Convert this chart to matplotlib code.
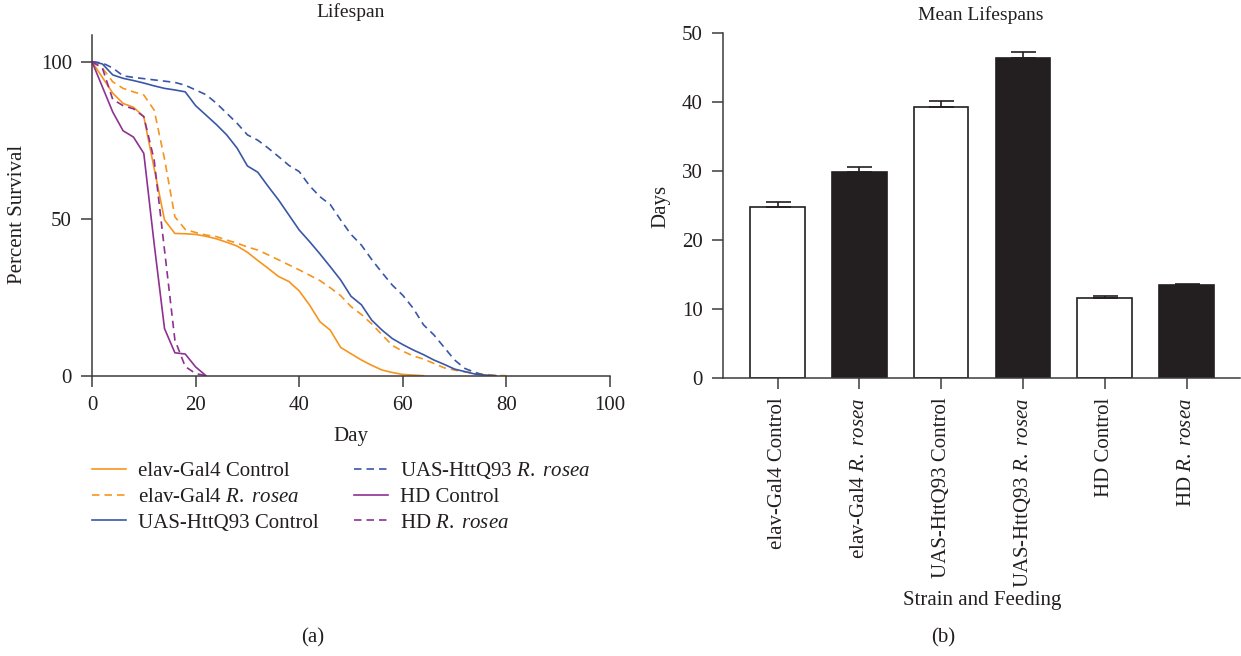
import numpy as np
import matplotlib
matplotlib.use('Agg')
import matplotlib.pyplot as plt

plt.rcParams['font.family'] = 'Liberation Serif'
plt.rcParams['mathtext.fontset'] = 'custom'
plt.rcParams['mathtext.rm'] = 'Liberation Serif'
plt.rcParams['mathtext.it'] = 'Liberation Serif:italic'

INK = '#231f20'
SPINE = '#3c3c3c'

# survival curves, percent alive every 2 days
days = np.arange(0, 82, 2)

elav_control = [100, 95, 90, 86.7, 85.5, 82.5, 66, 49.6, 45.3, 45.2, 45, 44.4, 43.6, 42.5, 41.3,
                39.3, 36.7, 34.2, 31.6, 30, 27, 22.5, 17.2, 14.5, 9, 7, 5, 3.3, 1.8, 1, 0.4, 0.2, 0]
elav_rosea = [100, 98, 93.6, 91.5, 90.4, 89.4, 84.6, 69, 50.6, 46.6, 45.6, 44.8, 44.3, 43.2, 42.2,
              41, 40, 38.5, 36.9, 35.3, 33.7, 32, 30.3, 28, 25.5, 22, 19.5, 16.5, 13, 9.6, 7.8,
              6.3, 5.3, 3.9, 2.5, 1.8, 1.2, 0.8, 0.4, 0.1, 0]
htt_control = [100, 99.3, 95.8, 94.7, 94, 93.2, 92.3, 91.5, 91, 90.4, 86, 83, 80, 76.7, 72.5,
               66.8, 64.8, 60.3, 56, 51.2, 46.4, 42.7, 38.8, 34.7, 30.5, 25.3, 22.6, 17.7, 14.5,
               11.8, 9.9, 8.2, 6.7, 5, 3.6, 2.1, 1.3, 0.5, 0.2, 0]
htt_rosea = [100, 99.6, 98, 95.5, 95, 94.6, 94.2, 93.8, 93.4, 92.5, 91, 89.5, 86.8, 83.6, 80.4,
             76.7, 75, 72.5, 69.8, 67, 65, 60.5, 57, 54.5, 49.6, 45, 41.6, 37, 32.8, 28.8, 25.6,
             21.5, 16.2, 13, 9, 5, 2.3, 1, 0]
hd_control = [100, 92, 84, 78, 76, 70.8, 42, 15, 7.3, 6.9, 2.8, 0]
hd_rosea = [100, 98, 88, 86, 85, 82.5, 68.7, 40, 11.4, 2.9, 0.7, 0]

# mean lifespans
strains = ['elav-Gal4 Control', r'elav-Gal4 $\it{R.\ rosea}$', 'UAS-HttQ93 Control',
           r'UAS-HttQ93 $\it{R.\ rosea}$', 'HD Control', r'HD $\it{R.\ rosea}$']
mean_days = [24.8, 29.8, 39.3, 46.3, 11.5, 13.4]
sem_days = [0.6, 0.7, 0.8, 0.85, 0.3, 0.2]
bar_fill = ['white', INK, 'white', INK, 'white', INK]

W, H = 1241, 656
fig = plt.figure(figsize=(W / 100, H / 100), dpi=100)


def px(x, y):
    return x / W, 1 - y / H


FS = 15

# ---- (a) survival
ax1 = fig.add_axes([92 / W, 1 - 375.7 / H, 518 / W, 340.7 / H])
curves = [
    (elav_control, '#f7941d', '-', 'elav-Gal4 Control'),
    (elav_rosea, '#f7941d', (0, (4.5, 3)), r'elav-Gal4 $\it{R.\ rosea}$'),
    (htt_control, '#3a57a7', '-', 'UAS-HttQ93 Control'),
    (htt_rosea, '#3a57a7', (0, (4.5, 3)), r'UAS-HttQ93 $\it{R.\ rosea}$'),
    (hd_control, '#8e3192', '-', 'HD Control'),
    (hd_rosea, '#8e3192', (0, (4.5, 3)), r'HD $\it{R.\ rosea}$'),
]
for vals, col, ls, lab in curves:
    ax1.plot(days[:len(vals)], vals, color=col, ls=ls, lw=1.2, label=lab)

ax1.set_xlim(0, 100)
ax1.set_ylim(0, 108.5)
ax1.set_xticks(range(0, 101, 20))
ax1.set_yticks([0, 50, 100])
for s in ['top', 'right']:
    ax1.spines[s].set_visible(False)
for s in ['left', 'bottom']:
    ax1.spines[s].set_color(SPINE)
    ax1.spines[s].set_linewidth(1.1)
ax1.tick_params(direction='out', length=8, width=1.1, color=SPINE, labelsize=FS,
                labelcolor=INK, pad=6.5)

fig.text(*px(351, 12), 'Lifespan', ha='center', va='center', fontsize=FS - 1, color=INK)
fig.text(*px(18, 214), 'Percent Survival', ha='center', va='center', rotation=90,
         fontsize=FS, color=INK)
fig.text(*px(351, 437), 'Day', ha='center', va='center', fontsize=FS, color=INK)

h, l = ax1.get_legend_handles_labels()
fig.legend(h, l, loc='upper left', bbox_to_anchor=px(92, 460), ncol=2, frameon=False,
           fontsize=FS, borderpad=0, borderaxespad=0, handlelength=1.65,
           handletextpad=0.55, columnspacing=1.7, labelspacing=0.3,
           labelcolor=INK)

fig.text(*px(313, 638), '(a)', ha='center', va='center', fontsize=FS, color=INK)

# ---- (b) mean lifespans
ax2 = fig.add_axes([723 / W, 1 - 377.7 / H, 517 / W, 345 / H])
x = np.arange(len(strains))
ax2.bar(x, mean_days, width=0.667, color=bar_fill, edgecolor=INK, linewidth=1.2, zorder=2)
ax2.errorbar(x, mean_days, yerr=[np.zeros(len(x)), sem_days], fmt='none', ecolor=INK,
             elinewidth=1.2, capsize=9, capthick=1.2, zorder=3)
ax2.set_xlim(-0.667, 5.653)
ax2.set_ylim(0, 50)
ax2.set_yticks(range(0, 51, 10))
ax2.set_xticks(x)
ax2.set_xticklabels(strains, rotation=90)
for s in ['top', 'right']:
    ax2.spines[s].set_visible(False)
for s in ['left', 'bottom']:
    ax2.spines[s].set_color(SPINE)
    ax2.spines[s].set_linewidth(1.1)
ax2.tick_params(direction='out', length=8, width=1.1, color=SPINE, labelsize=FS,
                labelcolor=INK, pad=6.5)

fig.text(*px(981, 15), 'Mean Lifespans', ha='center', va='center', fontsize=FS - 1, color=INK)
fig.text(*px(661, 206), 'Days', ha='center', va='center', rotation=90, fontsize=FS, color=INK)
fig.text(*px(982, 601), 'Strain and Feeding', ha='center', va='center', fontsize=FS, color=INK)
fig.text(*px(943, 638), '(b)', ha='center', va='center', fontsize=FS, color=INK)

fig.savefig('out.png', dpi=100)
